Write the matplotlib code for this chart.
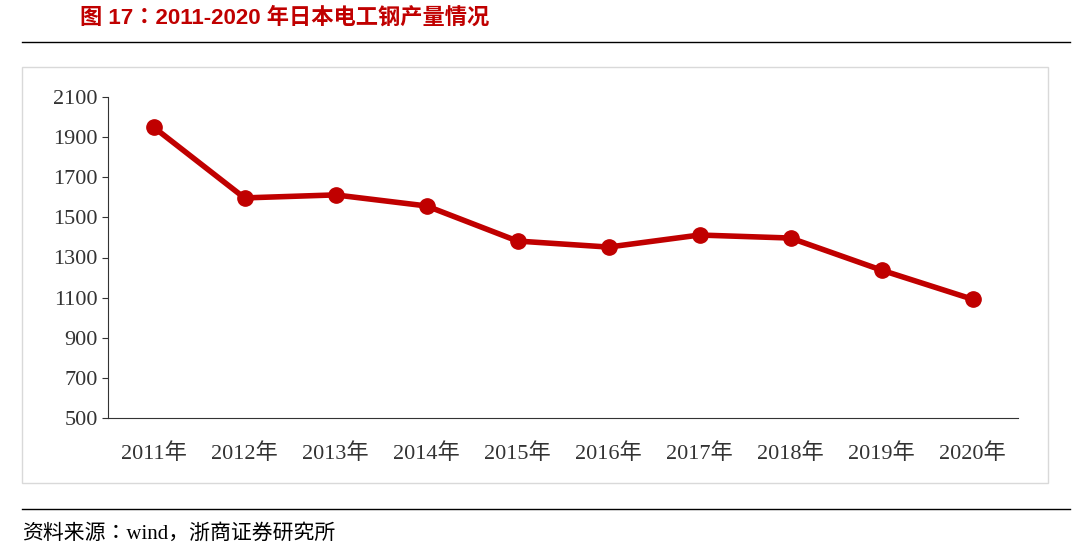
import matplotlib.pyplot as plt
from matplotlib import font_manager
from matplotlib.patches import Rectangle
from matplotlib.lines import Line2D

years = ['2011年', '2012年', '2013年', '2014年', '2015年',
         '2016年', '2017年', '2018年', '2019年', '2020年']
output = [1950, 1597, 1612, 1557, 1382, 1352, 1412, 1397, 1237, 1092]
yticks = [500, 700, 900, 1100, 1300, 1500, 1700, 1900, 2100]

names = sorted({f.name for f in font_manager.fontManager.ttflist if 'CJK' in f.name})
cjk = names[0] if names else 'Noto Sans CJK SC'
for n in names:
    if n.endswith('SC'):
        cjk = n
serif = ['Liberation Serif', cjk]

fig = plt.figure(figsize=(10.8, 5.52), dpi=100)

# title, rules and frame
fig.text(80 / 1080, 1 - 18 / 552, '图 17：2011-2020 年日本电工钢产量情况', color='#C00000',
         fontsize=16, fontweight='bold', va='center', family=['Liberation Sans', cjk])
fig.add_artist(Line2D([22 / 1080, 1070 / 1080], [1 - 42 / 552] * 2, color='black', lw=1))
fig.add_artist(Line2D([22 / 1080, 1070 / 1080], [1 - 509 / 552] * 2, color='black', lw=1))
fig.add_artist(Rectangle((22 / 1080, 1 - 483 / 552), 1026 / 1080, 416 / 552,
                         fill=False, edgecolor='#D9D9D9', lw=1))
fig.text(22 / 1080, 1 - 534 / 552, '资料来源：wind，浙商证券研究所', fontsize=15,
         va='center', family=serif)

ax = fig.add_axes([108 / 1080, 1 - 418 / 552, 910 / 1080, 321 / 552])
x = range(len(years))
ax.plot(x, output, color='#C00000', lw=4, marker='o', markersize=11)
ax.set_xlim(-0.5, len(years) - 0.5)
ax.set_ylim(500, 2100)
ax.set_yticks(yticks)
ax.set_yticklabels([str(v) for v in yticks], family=serif)
ax.set_xticks(list(x))
ax.set_xticklabels(years, family=serif)
ax.tick_params(axis='both', labelsize=16, colors='#333333')
ax.tick_params(axis='x', length=0, pad=18)
ax.tick_params(axis='y', length=4, direction='out')
for s in ['top', 'right']:
    ax.spines[s].set_visible(False)
for s in ['left', 'bottom']:
    ax.spines[s].set_color('#333333')

fig.savefig('out.png', dpi=100)
